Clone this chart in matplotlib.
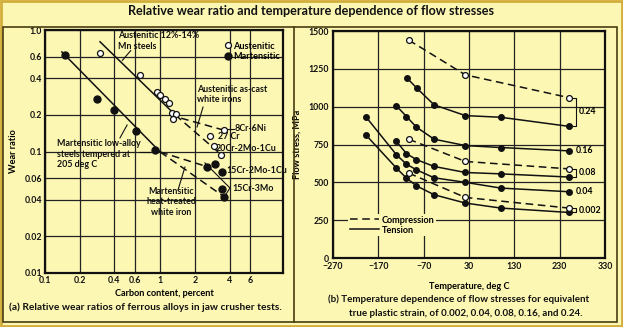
import matplotlib
matplotlib.use("Agg")

import matplotlib.pyplot as plt
from matplotlib.lines import Line2D
from matplotlib.patches import Rectangle

BG = "#fdf7b4"
INK = "#111111"
plt.rcParams["font.family"] = ["Lato", "DejaVu Sans"]
plt.rcParams["font.weight"] = "bold"

# ---- (a) wear ratio vs carbon content ----
aus_carbon = [0.30, 0.67, 0.93, 1.0, 1.1, 1.2, 1.26, 1.38, 1.28, 3.55, 2.72, 2.95, 3.39]
aus_wear = [0.65, 0.43, 0.31, 0.292, 0.27, 0.252, 0.208, 0.202, 0.184, 0.150, 0.134, 0.110, 0.094]
mart_carbon = [0.15, 0.28, 0.40, 0.62, 0.90, 2.55, 3.0, 3.4, 3.4, 3.55]
mart_wear = [0.62, 0.27, 0.22, 0.148, 0.103, 0.075, 0.079, 0.068, 0.049, 0.0425]

aus_fit_c = [0.30, 1.35]
aus_fit_w = [0.80, 0.20]
aus_branch_c = [[1.2, 3.55], [1.35, 3.39]]
aus_branch_w = [[0.20, 0.150], [0.20, 0.094]]
mart_fit_c = [0.14, 1.0]
mart_fit_w = [0.66, 0.099]
mart_branch_c = [[1.0, 2.55], [1.0, 3.5]]
mart_branch_w = [[0.099, 0.075], [0.099, 0.043]]

carbon_ticks = [0.1, 0.2, 0.4, 0.6, 1, 2, 4, 6]
carbon_labels = ["0.1", "0.2", "0.4", "0.6", "1", "2", "4", "6"]
wear_ticks = [0.01, 0.02, 0.04, 0.06, 0.1, 0.2, 0.4, 0.6, 1.0]
wear_labels = ["0.01", "0.02", "0.04", "0.06", "0.1", "0.2", "0.4", "0.6", "1.0"]

# ---- (b) flow stress vs temperature ----
t_024 = [-107, -85, -47, 22, 100, 250]
s_024 = [1190, 1122, 1012, 941, 930, 870]
t_016 = [-130, -108, -86, -47, 22, 100, 250]
s_016 = [1005, 935, 865, 785, 743, 730, 708]
t_008 = [-130, -108, -86, -47, 22, 100, 250]
s_008 = [770, 690, 650, 605, 565, 556, 535]
t_004 = [-198, -130, -108, -86, -47, 22, 100, 250]
s_004 = [935, 682, 620, 583, 530, 500, 462, 438]
t_0002 = [-198, -130, -108, -86, -47, 22, 100, 250]
s_0002 = [815, 594, 528, 477, 418, 363, 330, 301]
tc = [-103, 22, 250]
c_024 = [1440, 1210, 1060]
c_008 = [785, 638, 589]
c_0002 = [561, 400, 330]

fig = plt.figure(figsize=(6.23, 3.27), dpi=100)
fig.patch.set_facecolor(BG)

# frames
fig.patches.append(Rectangle((0.002, 0.003), 0.996, 0.994, transform=fig.transFigure,
                             fill=False, ec="#d2ad3c", lw=2))
fig.patches.append(Rectangle((3 / 623, 5 / 327), 614 / 623, 295 / 327, transform=fig.transFigure,
                             fill=False, ec="#4a3c10", lw=1.2))
fig.add_artist(Line2D([294 / 623, 294 / 623], [5 / 327, 300 / 327], transform=fig.transFigure,
                      color="#4a3c10", lw=1.2))

fig.text(0.5, 1 - 11 / 327, "Relative wear ratio and temperature dependence of flow stresses",
         ha="center", va="center", fontsize=9.1, fontweight="bold", color=INK)

# ===== left panel =====
ax1 = fig.add_axes([45 / 623, 1 - 273 / 327, 238 / 623, 243 / 327])
ax1.set_facecolor(BG)
ax1.set_xscale("log")
ax1.set_yscale("log")
ax1.set_xlim(0.1, 11.6)
ax1.set_ylim(0.01, 1.0)
ax1.set_xticks(carbon_ticks)
ax1.set_xticklabels(carbon_labels)
ax1.set_yticks(wear_ticks)
ax1.set_yticklabels(wear_labels)
ax1.minorticks_off()
ax1.tick_params(length=0, labelsize=6.3, pad=2, colors=INK)
ax1.grid(True, color="#222222", lw=0.9)
for s in ax1.spines.values():
    s.set_linewidth(1.6)
    s.set_color(INK)

ax1.plot(aus_fit_c, aus_fit_w, color=INK, lw=1.1)
ax1.plot(mart_fit_c, mart_fit_w, color=INK, lw=1.1)
for c, w in zip(aus_branch_c, aus_branch_w):
    ax1.plot(c, w, color=INK, lw=1.1, ls=(0, (5, 3)))
for c, w in zip(mart_branch_c, mart_branch_w):
    ax1.plot(c, w, color=INK, lw=1.1, ls=(0, (5, 3)))
ax1.plot(aus_carbon, aus_wear, "o", ms=4.3, mfc="white", mec=INK, mew=0.9, ls="none", zorder=5)
ax1.plot(mart_carbon, mart_wear, "o", ms=5.0, mfc=INK, mec=INK, ls="none", zorder=5)

ax1.set_xlabel("Carbon content, percent", fontsize=6.6, fontweight="bold", labelpad=3)
ax1.set_ylabel("Wear ratio", fontsize=6.6, fontweight="bold", labelpad=5)

tk = dict(transform=ax1.transAxes, fontsize=6.4, fontweight="bold", color=INK, linespacing=1.2)
ax1.text(0.307, 0.995, "Austenitic 12%-14%\nMn steels", ha="left", va="top", **tk)
ax1.text(0.639, 0.775, "Austenitic as-cast\nwhite irons", ha="left", va="top", **tk)
ax1.text(0.797, 0.593, "8Cr-6Ni", ha="left", va="center", **tk)
ax1.text(0.727, 0.560, "27 Cr", ha="left", va="center", **tk)
ax1.text(0.718, 0.514, "20Cr-2Mo-1Cu", ha="left", va="center", **tk)
ax1.text(0.761, 0.420, "15Cr-2Mo-1Cu", ha="left", va="center", **tk)
ax1.text(0.786, 0.346, "15Cr-3Mo", ha="left", va="center", **tk)
ax1.text(0.050, 0.550, "Martensitic low-alloy\nsteels tempered at\n205 deg C", ha="left", va="top", **tk)
ax1.text(0.530, 0.355, "Martensitic\nheat-treated\nwhite iron", ha="center", va="top", **tk)

lk = dict(transform=ax1.transAxes, color=INK, lw=0.8)
ax1.plot([0.36, 0.325], [0.915, 0.875], **lk)
ax1.plot([0.664, 0.639], [0.683, 0.601], **lk)
ax1.plot([0.345, 0.315], [0.609, 0.556], **lk)
ax1.plot([0.40, 0.44], [0.50, 0.50], **lk)
ax1.plot([0.559, 0.588], [0.342, 0.436], **lk)
ax1.plot([0.672, 0.777, 0.756], [0.453, 0.350, 0.317], **lk)
ax1.plot([0.755, 0.795], [0.593, 0.593], **lk)

hl = [Line2D([], [], marker="o", ls="none", ms=4.3, mfc="white", mec=INK, mew=0.9),
      Line2D([], [], marker="o", ls="none", ms=5, mfc=INK, mec=INK)]
ax1.legend(hl, ["Austenitic", "Martensitic"], loc="upper right", bbox_to_anchor=(1.01, 0.975),
           frameon=False, handletextpad=0.1, handlelength=1.0, borderpad=0.1,
           labelspacing=0.15, prop=dict(size=6.6, weight="bold"))

fig.text(145 / 623, 1 - 307 / 327, "(a) Relative wear ratios of ferrous alloys in jaw crusher tests.",
         ha="center", va="center", fontsize=7.3, fontweight="bold", color=INK)

# ===== right panel =====
ax2 = fig.add_axes([333 / 623, 1 - 258 / 327, 272 / 623, 227 / 327])
ax2.set_facecolor(BG)
ax2.set_xlim(-270, 330)
ax2.set_ylim(0, 1500)
ax2.set_xticks(range(-270, 331, 100))
ax2.set_yticks(range(0, 1501, 250))
ax2.tick_params(length=0, labelsize=6.3, pad=3, colors=INK)
ax2.grid(True, color="#222222", lw=0.9)
for s in ax2.spines.values():
    s.set_linewidth(1.6)
    s.set_color(INK)

for t, s in [(t_024, s_024), (t_016, s_016), (t_008, s_008), (t_004, s_004), (t_0002, s_0002)]:
    ax2.plot(t, s, color=INK, lw=1.1, marker="o", ms=4.0, mfc=INK, mec=INK, zorder=4)
for s in [c_024, c_008, c_0002]:
    ax2.plot(tc, s, color=INK, lw=1.1, ls=(0, (5, 3)), marker="o", ms=4.2, mfc="white",
             mec=INK, mew=0.9, zorder=5)

# brackets and strain labels at the right end
bx = 265
for top, bot, lab in [(c_024[-1], s_024[-1], "0.24"), (c_008[-1], s_008[-1], "0.08"),
                      (c_0002[-1], s_0002[-1], "0.002")]:
    ax2.plot([256, bx, bx, 256], [top, top, bot, bot], color=INK, lw=0.8)
    ax2.text(bx + 6, (top + bot) / 2, lab, fontsize=6.3, fontweight="bold", va="center", ha="left")
for s, lab in [(s_016[-1], "0.16"), (s_004[-1], "0.04")]:
    ax2.text(bx, s, lab, fontsize=6.3, fontweight="bold", va="center", ha="left")

ax2.set_xlabel("Temperature, deg C", fontsize=6.6, fontweight="bold", labelpad=8)
ax2.set_ylabel("Flow stress, MPa", fontsize=6.6, fontweight="bold", labelpad=5)

hl2 = [Line2D([], [], color=INK, lw=1.1, ls=(0, (5, 3))), Line2D([], [], color=INK, lw=1.1)]
leg = ax2.legend(hl2, ["Compression", "Tension"], loc="lower left", bbox_to_anchor=(0.04, 0.075),
                 frameon=True, facecolor=BG, edgecolor=BG, framealpha=1, handlelength=3.1,
                 handletextpad=0.3, borderpad=0.2, labelspacing=0.1,
                 prop=dict(size=6.6, weight="bold"))
leg.get_frame().set_linewidth(0)

fig.text(459 / 623, 1 - 299 / 327,
         "(b) Temperature dependence of flow stresses for equivalent",
         ha="center", va="center", fontsize=7.0, fontweight="bold", color=INK)
fig.text(466 / 623, 1 - 314 / 327,
         "true plastic strain, of 0.002, 0.04, 0.08, 0.16, and 0.24.",
         ha="center", va="center", fontsize=7.0, fontweight="bold", color=INK)

fig.savefig("out.png", dpi=100, facecolor=BG)
